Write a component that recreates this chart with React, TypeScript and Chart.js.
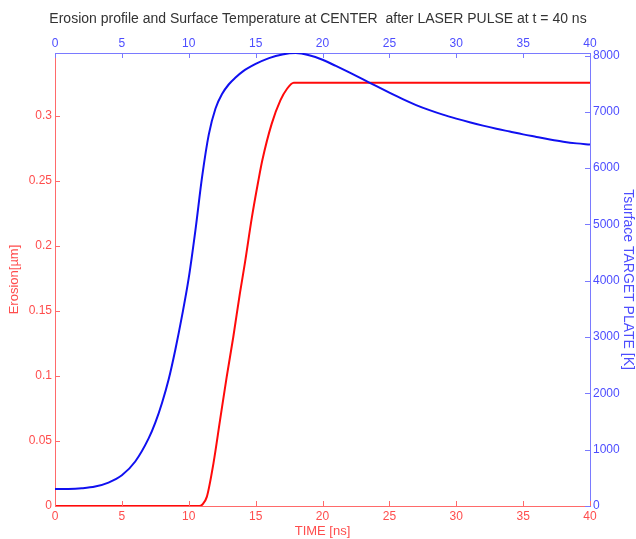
import React, { useEffect, useRef } from "react";
import { Chart, registerables } from "chart.js";

Chart.register(...registerables);

// Surface temperature (blue, top/right axes)
const tempTime = [0, 1, 2, 3, 4, 5, 6, 7, 7.5, 8, 8.5, 9, 9.5, 10, 10.5, 11, 11.5, 12, 12.5, 13, 13.5, 14, 15, 16, 17, 18, 19, 20, 21, 22, 23, 24, 25, 26, 27, 28, 29, 30, 31, 32, 33, 34, 35, 36, 37, 38, 39, 40];
const tempK = [300, 302, 315, 345, 415, 545, 790, 1200, 1480, 1830, 2250, 2780, 3380, 4050, 4900, 5850, 6600, 7060, 7320, 7490, 7610, 7710, 7850, 7955, 8020, 8045, 8005, 7925, 7815, 7700, 7580, 7460, 7340, 7225, 7120, 7030, 6950, 6880, 6815, 6755, 6700, 6650, 6600, 6555, 6510, 6470, 6440, 6420];

// Erosion (red, bottom/left axes)
const eroTime = [0, 10.8, 11.0, 11.35, 11.85, 12.34, 12.84, 13.33, 13.83, 14.2, 14.72, 15.2, 15.5, 16.2, 16.85, 17.35, 17.85, 40];
const erosion = [0, 0, 0.001, 0.007, 0.033, 0.066, 0.0995, 0.13, 0.164, 0.187, 0.222, 0.25, 0.266, 0.294, 0.312, 0.321, 0.3256, 0.3256];

// Tick labels
const timeTicks = [0, 5, 10, 15, 20, 25, 30, 35, 40];
const erosionTicks = [0, 0.05, 0.1, 0.15, 0.2, 0.25, 0.3];
const tempTicks = [0, 1000, 2000, 3000, 4000, 5000, 6000, 7000, 8000];

const titleText = "Erosion profile and Surface Temperature at CENTER  after LASER PULSE at t = 40 ns";
const xTitle = "TIME [ns]";
const yTitle = "Erosion[\u00b5m]";
const y2Title = "Tsurface TARGET PLATE [K]";

const RED_LINE = "#ff0a0a";
const RED_AXIS = "#ff6a6a";
const RED_TEXT = "#ff4d4d";
const BLUE_LINE = "#1010f0";
const BLUE_AXIS = "#7a7aff";
const BLUE_TEXT = "#4d4dff";
const FONT = "'Liberation Sans', Arial, sans-serif";

const inwardTicks = {
  id: "inwardTicks",
  afterDraw(chart: any) {
    const ctx = chart.ctx;
    const area = chart.chartArea;
    const len = 5;
    const defs: [string, string][] = [["x", RED_AXIS], ["x2", BLUE_AXIS], ["y", RED_AXIS], ["y2", BLUE_AXIS]];
    ctx.save();
    ctx.lineWidth = 1;
    for (const [id, color] of defs) {
      const s = chart.scales[id];
      if (!s) continue;
      ctx.strokeStyle = color;
      s.ticks.forEach((_t: any, i: number) => {
        const p = Math.round(s.getPixelForTick(i)) + 0.5;
        ctx.beginPath();
        if (id === "x") { ctx.moveTo(p, area.bottom); ctx.lineTo(p, area.bottom - len); }
        if (id === "x2") { ctx.moveTo(p, area.top); ctx.lineTo(p, area.top + len); }
        if (id === "y") { ctx.moveTo(area.left, p); ctx.lineTo(area.left + len, p); }
        if (id === "y2") { ctx.moveTo(area.right, p); ctx.lineTo(area.right - len, p); }
        ctx.stroke();
      });
    }
    ctx.restore();
  },
};

const setTicks = (vals: number[]) => (s: any) => {
  s.ticks = vals.map((v) => ({ value: v }));
};

export default function App() {
  const ref = useRef<HTMLCanvasElement | null>(null);
  useEffect(() => {
    if (!ref.current) return;
    const tickFont = { family: FONT, size: 12 };
    const chart = new Chart(ref.current, {
      type: "line",
      data: {
        datasets: [
          {
            label: "T",
            data: tempTime.map((t, i) => ({ x: t, y: tempK[i] })),
            xAxisID: "x2",
            yAxisID: "y2",
            borderColor: BLUE_LINE,
            borderWidth: 2,
            pointRadius: 0,
            cubicInterpolationMode: "monotone",
          },
          {
            label: "E",
            data: eroTime.map((t, i) => ({ x: t, y: erosion[i] })),
            xAxisID: "x",
            yAxisID: "y",
            borderColor: RED_LINE,
            borderWidth: 2,
            pointRadius: 0,
            cubicInterpolationMode: "monotone",
          },
        ],
      },
      options: {
        animation: false,
        responsive: false,
        layout: { padding: 0 },
        plugins: {
          legend: { display: false },
          tooltip: { enabled: false },
          title: {
            display: true,
            text: titleText,
            color: "#333333",
            font: { family: FONT, size: 14, weight: "normal" },
            padding: { top: 11, bottom: 0 },
          },
        },
        scales: {
          x: {
            type: "linear",
            position: "bottom",
            min: 0,
            max: 40,
            grid: { display: false, drawTicks: false },
            border: { display: true, color: RED_AXIS, width: 1 },
            afterBuildTicks: setTicks(timeTicks),
            ticks: { color: RED_TEXT, font: tickFont, padding: 3, maxRotation: 0, autoSkip: false },
            title: { display: true, text: xTitle, color: RED_TEXT, font: { family: FONT, size: 13 }, padding: { top: 0, bottom: 0 } },
            afterFit: (s: any) => { s.height = 33; },
          },
          x2: {
            type: "linear",
            position: "top",
            min: 0,
            max: 40,
            grid: { display: false, drawTicks: false },
            border: { display: true, color: BLUE_AXIS, width: 1 },
            afterBuildTicks: setTicks(timeTicks),
            ticks: { color: BLUE_TEXT, font: tickFont, padding: 2, maxRotation: 0, autoSkip: false },
            afterFit: (s: any) => { s.height = 53 - 27.8; },
          },
          y: {
            type: "linear",
            position: "left",
            min: 0,
            max: 0.3485,
            grid: { display: false, drawTicks: false },
            border: { display: true, color: RED_AXIS, width: 1 },
            afterBuildTicks: setTicks(erosionTicks),
            ticks: {
              color: RED_TEXT,
              font: tickFont,
              padding: 3,
              autoSkip: false,
              callback: (v: any) => String(Number(Number(v).toFixed(2))),
            },
            title: { display: true, text: yTitle, color: RED_TEXT, font: { family: FONT, size: 13 }, padding: { top: 7, bottom: 0 } },
            afterFit: (s: any) => { s.width = 55; },
          },
          y2: {
            type: "linear",
            position: "right",
            min: 0,
            max: 8045,
            grid: { display: false, drawTicks: false },
            border: { display: true, color: BLUE_AXIS, width: 1 },
            afterBuildTicks: setTicks(tempTicks),
            ticks: {
              color: BLUE_TEXT,
              font: tickFont,
              padding: 3,
              autoSkip: false,
              callback: (v: any) => String(Math.round(Number(v))),
            },
            title: { display: true, text: y2Title, color: BLUE_TEXT, font: { family: FONT, size: 14 }, padding: { top: 0, bottom: 0 } },
            afterFit: (s: any) => { s.width = 46; },
          },
        },
      } as any,
      plugins: [inwardTicks],
    });
    return () => chart.destroy();
  }, []);
  return (
    <div style={{ position: "absolute", left: 0, top: 0, width: 636, height: 539, background: "#ffffff" }}>
      <canvas ref={ref} width={636} height={539} style={{ display: "block" }} />
    </div>
  );
}
